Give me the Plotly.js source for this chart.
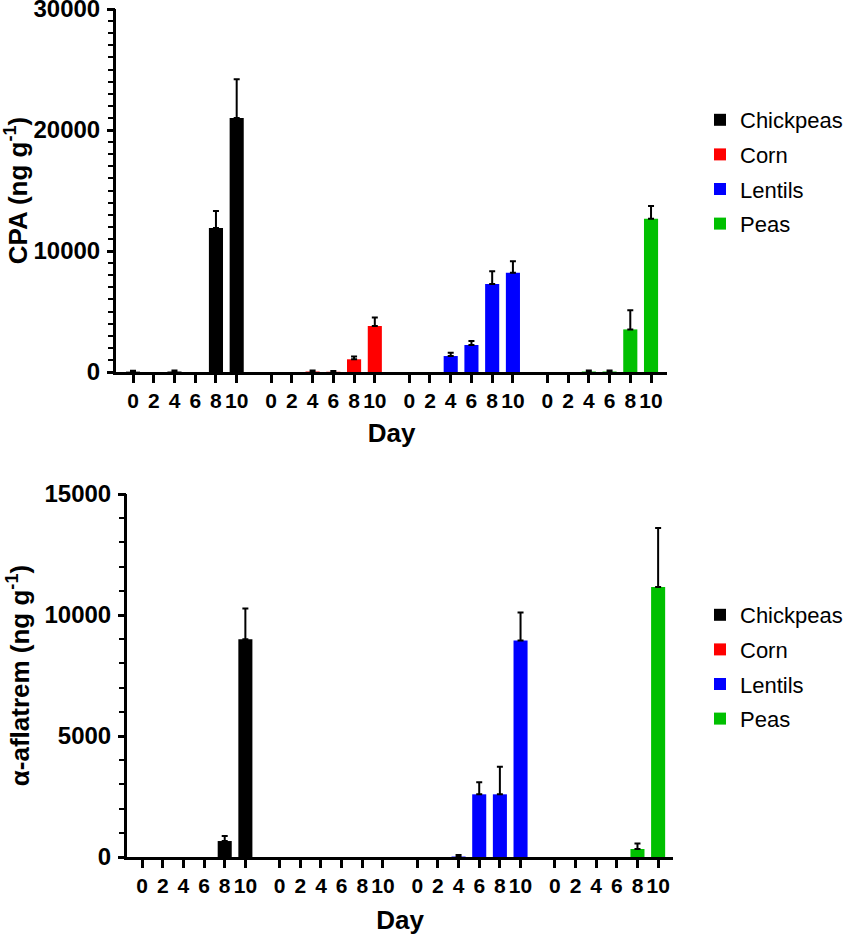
<!DOCTYPE html>
<html>
<head>
<meta charset="utf-8">
<script src="https://cdn.plot.ly/plotly-3.0.1.min.js"></script>
<style>html,body{margin:0;padding:0;background:#fff;}#chart{width:851px;height:936px;}</style>
</head>
<body>
<div id="chart"></div>
<script>
// ---- data ----
const days = [0, 2, 4, 6, 8, 10];
const crops = ['Chickpeas', 'Corn', 'Lentils', 'Peas'];
const cropColors = ['#000000', '#ff0000', '#0000ff', '#00c000'];

// CPA (ng g-1) mean and upper SD per crop, by day
const cpaChickpeas = [30, 0, 40, 0, 11900, 21000];
const cpaChickpeasErr = [80, 0, 80, 0, 1400, 3200];
const cpaCorn = [0, 0, 40, 20, 1050, 3800];
const cpaCornErr = [0, 0, 80, 60, 230, 700];
const cpaLentils = [0, 0, 1320, 2230, 7280, 8200];
const cpaLentilsErr = [0, 0, 280, 330, 1050, 960];
const cpaPeas = [0, 0, 40, 40, 3520, 12670];
const cpaPeasErr = [0, 0, 80, 80, 1590, 1050];

// alpha-aflatrem (ng g-1)
const aflChickpeas = [0, 0, 0, 0, 660, 9000];
const aflChickpeasErr = [0, 0, 0, 0, 210, 1270];
const aflCorn = [0, 0, 0, 0, 0, 0];
const aflCornErr = [0, 0, 0, 0, 0, 0];
const aflLentils = [0, 0, 20, 2590, 2590, 8950];
const aflLentilsErr = [0, 0, 60, 500, 1140, 1150];
const aflPeas = [0, 0, 0, 0, 330, 11160];
const aflPeasErr = [0, 0, 0, 0, 230, 2440];

// axis settings
const cpaMax = 30000, cpaMajor = 10000;
const aflMax = 15000, aflMajor = 5000;
const minorStep = 1000;

const cpaSeries = [cpaChickpeas, cpaCorn, cpaLentils, cpaPeas];
const cpaErrs = [cpaChickpeasErr, cpaCornErr, cpaLentilsErr, cpaPeasErr];
const aflSeries = [aflChickpeas, aflCorn, aflLentils, aflPeas];
const aflErrs = [aflChickpeasErr, aflCornErr, aflLentilsErr, aflPeasErr];

// ---- layout helpers ----
const groupStride = 6.66;
function positions(g) { return days.map((d, k) => g * groupStride + k); }
const allPos = [].concat(...crops.map((c, g) => positions(g)));
const allText = [].concat(...crops.map(() => days.map(String)));

function yTicks(max, major) {
  const vals = [], text = [];
  for (let v = 0; v <= max; v += minorStep) {
    vals.push(v);
    text.push(v % major === 0 ? String(v) : '');
  }
  return { vals, text };
}
const cpaTicks = yTicks(cpaMax, cpaMajor);
const aflTicks = yTicks(aflMax, aflMajor);

const FAM = 'Liberation Sans, Arial, Helvetica, sans-serif';
const traces = [];
crops.forEach((c, g) => {
  const mk = (vals, errs, xa, ya, leg, grp) => ({
    type: 'bar', name: c, x: positions(g), y: vals,
    xaxis: xa, yaxis: ya, legend: leg, legendgroup: grp,
    width: 0.68,
    marker: { color: cropColors[g], line: { width: 0 } },
    error_y: {
      type: 'data', symmetric: false,
      array: errs.map(v => (v > 0 ? v : NaN)),
      arrayminus: errs.map(v => (v > 0 ? 0 : NaN)),
      color: '#000', thickness: 2, width: 3
    },
    hoverinfo: 'skip'
  });
  traces.push(mk(cpaSeries[g], cpaErrs[g], 'x', 'y', 'legend', 'a' + g));
  traces.push(mk(aflSeries[g], aflErrs[g], 'x2', 'y2', 'legend2', 'b' + g));
});
// invisible carriers so the major-tick overlay axes get drawn
traces.push({ type: 'scatter', mode: 'markers', x: [0], y: [0], xaxis: 'x', yaxis: 'y3',
  marker: { opacity: 0, size: 1 }, showlegend: false, hoverinfo: 'skip' });
traces.push({ type: 'scatter', mode: 'markers', x: [0], y: [0], xaxis: 'x2', yaxis: 'y4',
  marker: { opacity: 0, size: 1 }, showlegend: false, hoverinfo: 'skip' });

const W = 851, H = 936;
function xd(a, b) { return [a / W, b / W]; }
function yd(top, bot) { return [1 - bot / H, 1 - top / H]; }

const xCommon = {
  showgrid: false, zeroline: false, showline: true, linecolor: '#000', linewidth: 3,
  ticks: 'outside', ticklen: 8, tickwidth: 3, tickcolor: '#000',
  tickmode: 'array', tickvals: allPos, ticktext: allText, tickangle: 0,
  tickfont: { family: FAM, size: 21, color: '#000', weight: 'bold' },
  automargin: false
};
const yCommon = {
  showgrid: false, zeroline: false, showline: true, linecolor: '#000', linewidth: 3,
  ticks: 'outside', ticklen: 5, tickwidth: 2, tickcolor: '#000',
  tickmode: 'array', ticklabelstandoff: 3,
  ticklabeloverflow: 'allow',
  tickfont: { family: FAM, size: 24, color: '#000', weight: 'bold' },
  automargin: false
};
const yMajorOverlay = {
  showgrid: false, zeroline: false, showline: false,
  ticks: 'outside', ticklen: 8, tickwidth: 3, tickcolor: '#000',
  tickmode: 'linear', tick0: 0, showticklabels: false,
  side: 'left', automargin: false
};
const titleFont = { family: FAM, size: 26, color: '#000', weight: 'bold' };
const legendCommon = {
  x: 700 / W, xanchor: 'left', yanchor: 'top',
  font: { family: FAM, size: 22, color: '#000' },
  bgcolor: 'rgba(0,0,0,0)', tracegroupgap: 3
};

const layout = {
  width: W, height: H,
  margin: { l: 0, r: 0, t: 0, b: 0 },
  paper_bgcolor: '#fff', plot_bgcolor: '#fff',
  barmode: 'overlay',
  xaxis: Object.assign({}, xCommon, {
    domain: xd(116, 667), range: [-0.82, 25.75], anchor: 'y',
    title: { text: 'Day', font: titleFont, standoff: 13 }
  }),
  yaxis: Object.assign({}, yCommon, {
    domain: yd(9, 372), range: [0, cpaMax], anchor: 'x',
    tickvals: cpaTicks.vals, ticktext: cpaTicks.text,
    title: { text: 'CPA (ng g<sup>-1</sup>)', font: titleFont, standoff: 8 }
  }),
  yaxis3: Object.assign({}, yMajorOverlay, { overlaying: 'y', anchor: 'x', range: [0, cpaMax], dtick: cpaMajor }),
  xaxis2: Object.assign({}, xCommon, {
    domain: xd(127, 673), range: [-0.73, 25.7], anchor: 'y2',
    title: { text: 'Day', font: titleFont, standoff: 15 }
  }),
  yaxis2: Object.assign({}, yCommon, {
    domain: yd(494, 857), range: [0, aflMax], anchor: 'x2',
    tickvals: aflTicks.vals, ticktext: aflTicks.text,
    title: { text: 'α-aflatrem (ng g<sup>-1</sup>)', font: titleFont, standoff: 8 }
  }),
  yaxis4: Object.assign({}, yMajorOverlay, { overlaying: 'y2', anchor: 'x2', range: [0, aflMax], dtick: aflMajor }),
  legend: Object.assign({}, legendCommon, { y: 1 - 99 / H }),
  legend2: Object.assign({}, legendCommon, { y: 1 - 594 / H }),
  showlegend: true
};

Plotly.newPlot('chart', traces, layout, { staticPlot: true, displayModeBar: false });
</script>
</body>
</html>
